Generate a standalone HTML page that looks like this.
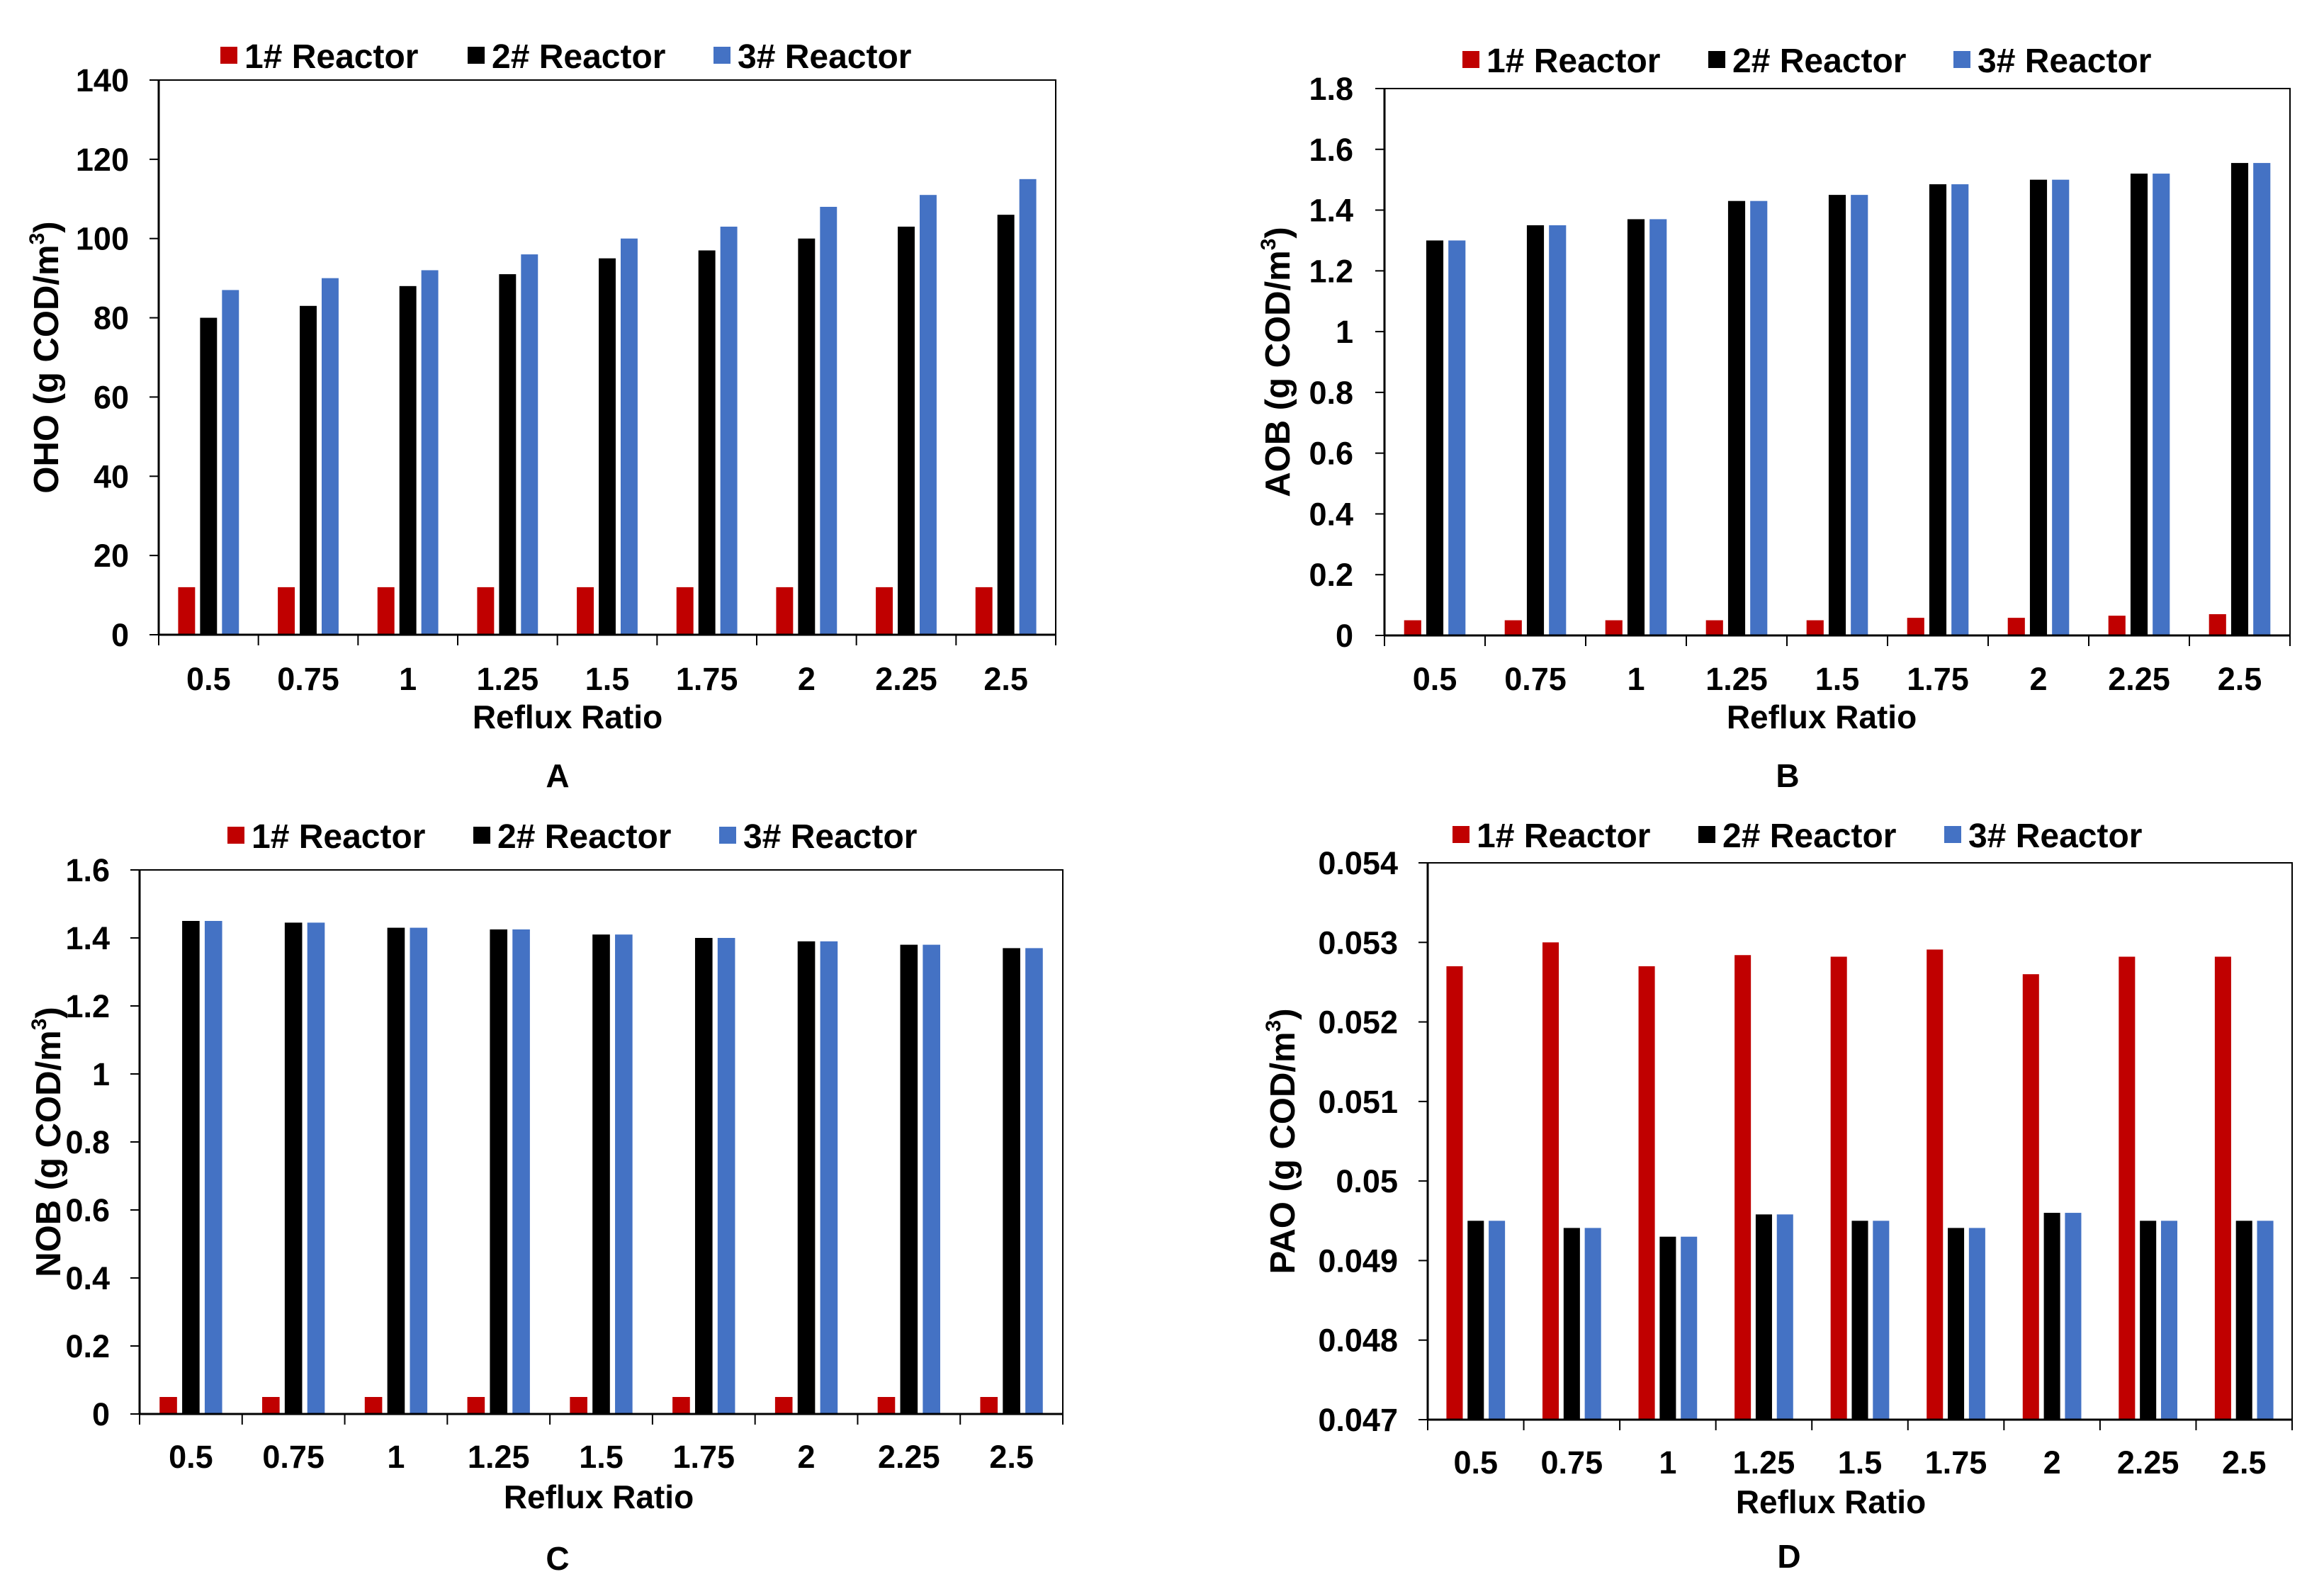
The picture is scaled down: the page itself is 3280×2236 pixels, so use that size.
<!DOCTYPE html>
<html><head><meta charset="utf-8"><style>
html,body{margin:0;padding:0;background:#fff;}
svg{display:block;}
text{font-family:"Liberation Sans",sans-serif;font-weight:bold;fill:#000;}
</style></head><body>
<svg id="fig" width="3280" height="2236" viewBox="0 0 3280 2236" xmlns="http://www.w3.org/2000/svg"></svg>
<script>
const categories = ["0.5","0.75","1","1.25","1.5","1.75","2","2.25","2.5"];
const seriesNames = ["1# Reactor","2# Reactor","3# Reactor"];
const colors = ["#C00000","#000000","#4472C4"];

const ohoR1 = [12,12,12,12,12,12,12,12,12];
const ohoR2 = [80,83,88,91,95,97,100,103,106];
const ohoR3 = [87,90,92,96,100,103,108,111,115];
const ohoTicks = [0,20,40,60,80,100,120,140];

const aobR1 = [0.05,0.05,0.05,0.05,0.05,0.058,0.058,0.065,0.07];
const aobR2 = [1.30,1.35,1.37,1.43,1.45,1.485,1.50,1.52,1.555];
const aobR3 = [1.30,1.35,1.37,1.43,1.45,1.485,1.50,1.52,1.555];
const aobTicks = [0,0.2,0.4,0.6,0.8,1,1.2,1.4,1.6,1.8];

const nobR1 = [0.05,0.05,0.05,0.05,0.05,0.05,0.05,0.05,0.05];
const nobR2 = [1.45,1.445,1.43,1.425,1.41,1.4,1.39,1.38,1.37];
const nobR3 = [1.45,1.445,1.43,1.425,1.41,1.4,1.39,1.38,1.37];
const nobTicks = [0,0.2,0.4,0.6,0.8,1,1.2,1.4,1.6];

const paoR1 = [0.0527,0.0530,0.0527,0.05284,0.05282,0.05291,0.0526,0.05282,0.05282];
const paoR2 = [0.0495,0.04941,0.0493,0.04958,0.0495,0.04941,0.0496,0.0495,0.0495];
const paoR3 = [0.0495,0.04941,0.0493,0.04958,0.0495,0.04941,0.0496,0.0495,0.0495];
const paoTicks = [0.047,0.048,0.049,0.05,0.051,0.052,0.053,0.054];

const NS="http://www.w3.org/2000/svg";
const svg=document.getElementById('fig');
function mk(tag,attrs,parent,txt){const e=document.createElementNS(NS,tag);for(const k in attrs)e.setAttribute(k,attrs[k]);if(txt!==undefined)e.textContent=txt;(parent||svg).appendChild(e);return e;}
function nt(x,y,anchor,size,txt,parent){return mk('text',{x:x,y:y,'text-anchor':anchor,'font-size':size},parent,txt);}

const panels=[
 {id:'a',L:224,R:1490,T:113,B:896,series:[ohoR1,ohoR2,ohoR3],ticks:ohoTicks,ylab:'OHO',tickR:182,ytx:65,legY:79,legX:[311,660,1007],xlY:958,xtY:1012,xtX:801,letter:'A',letX:787,letY:1094},
 {id:'b',L:1954,R:3232,T:125,B:897,series:[aobR1,aobR2,aobR3],ticks:aobTicks,ylab:'AOB',tickR:1910,ytx:1803,legY:85,legX:[2064,2411,2757],xlY:958,xtY:1012,xtX:2571,letter:'B',letX:2523,letY:1094},
 {id:'c',L:197,R:1500,T:1228,B:1996,series:[nobR1,nobR2,nobR3],ticks:nobTicks,ylab:'NOB',tickR:155,ytx:68,legY:1180,legX:[321,668,1015],xlY:2056,xtY:2113,xtX:845,letter:'C',letX:787,letY:2199},
 {id:'d',L:2015,R:3235,T:1218,B:2004,series:[paoR1,paoR2,paoR3],ticks:paoTicks,ylab:'PAO',tickR:1973,ytx:1810,legY:1179,legX:[2050,2397,2744],xlY:2064,xtY:2120,xtX:2584,letter:'D',letX:2525,letY:2196}
];

panels.forEach(p=>{
  const g=mk('g',{});
  
  
  const t0=p.ticks[0], t1=p.ticks[p.ticks.length-1];
  const y=v=>p.B-(v-t0)/(t1-t0)*(p.B-p.T);
  const gw=(p.R-p.L)/categories.length;
  const bw=gw*0.17, off=gw*0.22;
  p.series.forEach((arr,si)=>{
    arr.forEach((v,ci)=>{
      const cx=p.L+gw*(ci+0.5)+(si-1)*off;
      const r=mk('rect',{x:cx-bw/2,y:y(v),width:bw,height:p.B-y(v),fill:colors[si]},g);
      
      
    });
  });
  const fr=mk('rect',{x:p.L,y:p.T,width:p.R-p.L,height:p.B-p.T,fill:'none',stroke:'#000','stroke-width':2},g);
  
  
  mk('line',{x1:p.L,y1:p.T,x2:p.L,y2:p.B,stroke:'#000','stroke-width':3},g);
  mk('line',{x1:p.L,y1:p.B,x2:p.R,y2:p.B,stroke:'#000','stroke-width':3},g);
  p.ticks.forEach(tv=>{
    mk('line',{x1:p.L-13,y1:y(tv),x2:p.L,y2:y(tv),stroke:'#000','stroke-width':2},g);
    const t=nt(p.tickR,y(tv)+16,'end',45,String(tv),g);
    
    
  });
  for(let i=0;i<=categories.length;i++){
    const xx=p.L+gw*i;
    mk('line',{x1:xx,y1:p.B,x2:xx,y2:p.B+15,stroke:'#000','stroke-width':2},g);
  }
  categories.forEach((c,ci)=>{
    const t=nt(p.L+gw*(ci+0.5),p.xlY+16,'middle',45,c,g);
    
    
  });
  const xt=nt(p.xtX,p.xtY+16,'middle',46,'Reflux Ratio',g);
  
  
  const cy=(p.T+p.B)/2;
  const yt=mk('text',{x:0,y:0,'text-anchor':'middle','font-size':49,transform:'translate('+(p.ytx+17)+','+cy+') rotate(-90)'},g);
  
  
  mk('tspan',{},yt,p.ylab+' (g COD/m');
  mk('tspan',{'font-size':30,dy:-20},yt,'3');
  mk('tspan',{dy:20},yt,')');
  seriesNames.forEach((n,si)=>{
    const lg=mk('g',{},g);
    
    
    mk('rect',{x:p.legX[si],y:p.legY-13,width:24,height:24,fill:colors[si]},lg);
    nt(p.legX[si]+34,p.legY+17,'start',48,n,lg);
  });
  const lt=nt(p.letX,p.letY+17,'middle',46,p.letter,g);
  
  
});
</script>
</body></html>
